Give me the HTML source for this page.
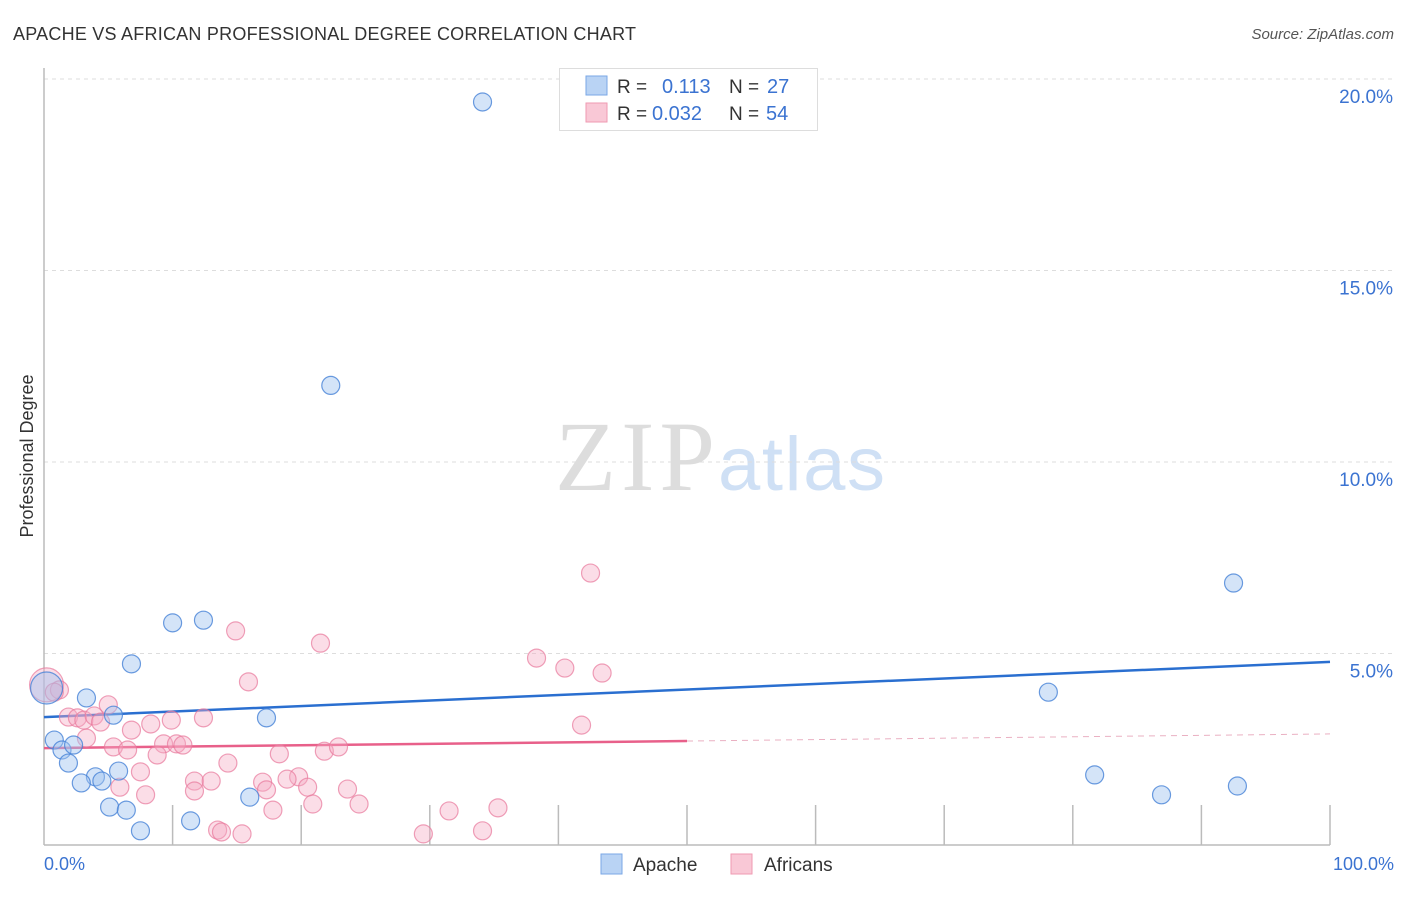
<!DOCTYPE html>
<html><head><meta charset="utf-8"><style>
body{margin:0;background:#fff;font-family:"Liberation Sans",sans-serif;}
svg text{font-family:"Liberation Sans",sans-serif;}
</style></head><body>
<svg id="chart" width="1406" height="892" viewBox="0 0 1406 892">
<text x="13" y="40" font-size="18" fill="#333" textLength="623">APACHE VS AFRICAN PROFESSIONAL DEGREE CORRELATION CHART</text>
<text x="1394" y="39" font-size="15" fill="#555" text-anchor="end" font-style="italic">Source: ZipAtlas.com</text>
<g>
<text x="555" y="490" font-size="100" fill="#ddd" textLength="160" style="font-family:'Liberation Serif',serif">ZIP</text>
<text x="718" y="490" font-size="76" fill="#cfe0f5" textLength="167">atlas</text>
</g>
<g id="grid"></g>
<g id="axes"></g>
<g id="trends"></g>
<g id="pts"></g>
<text transform="translate(33,456) rotate(-90)" font-size="18" fill="#333" text-anchor="middle">Professional Degree</text>
<text x="44" y="870" font-size="18" fill="#3b73d1">0.0%</text>
<text x="1394" y="870" font-size="18" fill="#3b73d1" text-anchor="end">100.0%</text>
<g>
<rect x="559.5" y="68.5" width="258" height="62" fill="#fff" stroke="#ddd"/>
<rect x="586" y="76" width="21" height="19" fill="#b9d3f4" stroke="#7aa7e6"/>
<rect x="586" y="103" width="21" height="19" fill="#f9c8d6" stroke="#ef9ab2"/>
<text x="617" y="93" font-size="19" fill="#333">R =</text>
<text x="662" y="93" font-size="20" fill="#3b73d1">0.113</text>
<text x="729" y="93" font-size="19" fill="#333">N =</text>
<text x="767" y="93" font-size="20" fill="#3b73d1">27</text>
<text x="617" y="120" font-size="19" fill="#333">R =</text>
<text x="652" y="120" font-size="20" fill="#3b73d1">0.032</text>
<text x="729" y="120" font-size="19" fill="#333">N =</text>
<text x="766" y="120" font-size="20" fill="#3b73d1">54</text>
</g>
<g>
<rect x="601" y="854" width="21" height="20" fill="#b9d3f4" stroke="#7aa7e6"/>
<text x="633" y="871" font-size="19" fill="#333">Apache</text>
<rect x="731" y="854" width="21" height="20" fill="#f9c8d6" stroke="#ef9ab2"/>
<text x="764" y="871" font-size="19" fill="#333">Africans</text>
</g>
</svg>
<script>
const yTicks=[5,10,15,20];
const yTickLabels=["5.0%","10.0%","15.0%","20.0%"];
const apacheX=[34.1,22.3,92.5,10.0,12.4,6.8,78.1,5.4,17.3,3.3,0.8,1.4,2.3,1.9,4.0,4.5,2.9,5.8,5.1,6.4,7.5,11.4,16.0,81.7,86.9,92.8,0.2];
const apacheY=[19.4,12.0,6.84,5.80,5.87,4.73,3.99,3.39,3.32,3.84,2.74,2.48,2.61,2.14,1.78,1.67,1.62,1.93,0.99,0.91,0.37,0.63,1.25,1.83,1.31,1.54,4.10];
const apacheR=[9,9,9,9,9,9,9,9,9,9,9,9,9,9,9,9,9,9,9,9,9,9,9,9,9,9,16];
const afrX=[42.5,14.9,21.5,38.3,40.5,43.4,15.9,0.2,1.2,0.8,5.0,1.9,2.6,3.1,3.9,4.4,12.4,9.9,8.3,6.8,41.8,3.3,5.4,6.5,9.3,10.3,10.8,8.8,18.3,21.8,22.9,7.5,14.3,11.7,13.0,17.0,19.8,18.9,7.9,5.9,11.7,17.3,20.5,23.6,17.8,20.9,24.5,31.5,35.3,13.5,13.8,15.4,29.5,34.1];
const afrY=[7.10,5.59,5.27,4.88,4.62,4.49,4.26,4.18,4.05,3.99,3.66,3.34,3.32,3.26,3.37,3.21,3.32,3.26,3.16,3.00,3.13,2.79,2.56,2.48,2.64,2.64,2.61,2.35,2.38,2.45,2.56,1.91,2.14,1.67,1.67,1.64,1.78,1.72,1.31,1.51,1.41,1.44,1.51,1.46,0.91,1.07,1.07,0.89,0.97,0.39,0.34,0.29,0.29,0.37];
const afrR=[9,9,9,9,9,9,9,17,9,9,9,9,9,9,9,9,9,9,9,9,9,9,9,9,9,9,9,9,9,9,9,9,9,9,9,9,9,9,9,9,9,9,9,9,9,9,9,9,9,9,9,9,9,9];
const apacheTrend=[3.34,4.78];
const afrTrend=[2.53,2.90];
const afrSolidEnd=50;
const NS="http://www.w3.org/2000/svg";
const X0=44,X1=1330,YB=845,YT=79;
const xs=v=>X0+(X1-X0)*v/100;
const ys=v=>YB-(YB-YT)*v/20;
function mk(tag,attrs,parent){const e=document.createElementNS(NS,tag);for(const k in attrs)e.setAttribute(k,attrs[k]);parent.appendChild(e);return e;}
const grid=document.getElementById('grid'),axes=document.getElementById('axes'),trends=document.getElementById('trends'),pts=document.getElementById('pts');
yTicks.forEach((t,i)=>{
 const l=mk('line',{x1:X0,x2:1394,y1:ys(t),y2:ys(t),stroke:'#ddd','stroke-dasharray':'4,4'},grid);
 
 
 const tx=mk('text',{x:1393,y:ys(t)+24,'font-size':19,fill:'#3b73d1','text-anchor':'end'},grid);
 tx.textContent=yTickLabels[i];
 
 
});
mk('line',{x1:X0,x2:X0,y1:68,y2:YB,stroke:'#bbb','stroke-width':1.5},axes);
mk('line',{x1:X0,x2:X1,y1:YB,y2:YB,stroke:'#bbb','stroke-width':1.5},axes);
for(let i=1;i<=10;i++){const t=mk('line',{x1:xs(i*10),x2:xs(i*10),y1:805,y2:YB,stroke:'#bbb','stroke-width':1.5},axes);
 
 }
function dot(x,y,r,fill,stroke,name){const c=mk('circle',{cx:xs(x),cy:ys(y),r:r,fill:fill,stroke:stroke,'stroke-width':1.2},pts);
 
 }
afrX.forEach((x,i)=>dot(x,afrY[i],afrR[i],'rgba(246,170,195,0.4)','rgba(232,120,155,0.7)','africans-point'));
apacheX.forEach((x,i)=>dot(x,apacheY[i],apacheR[i],'rgba(160,195,240,0.45)','rgba(70,130,215,0.8)','apache-point'));
const bt=mk('line',{x1:xs(0),x2:xs(100),y1:ys(apacheTrend[0]),y2:ys(apacheTrend[1]),stroke:'#2a6fd0','stroke-width':2.5},trends);


const pm=afrTrend[0]+(afrTrend[1]-afrTrend[0])*afrSolidEnd/100;
const pt=mk('line',{x1:xs(0),x2:xs(afrSolidEnd),y1:ys(afrTrend[0]),y2:ys(pm),stroke:'#e8608a','stroke-width':2.5},trends);


const pd=mk('line',{x1:xs(afrSolidEnd),x2:xs(100),y1:ys(pm),y2:ys(afrTrend[1]),stroke:'#eab0c2','stroke-width':1,'stroke-dasharray':'6,5'},trends);


</script>
</body></html>
